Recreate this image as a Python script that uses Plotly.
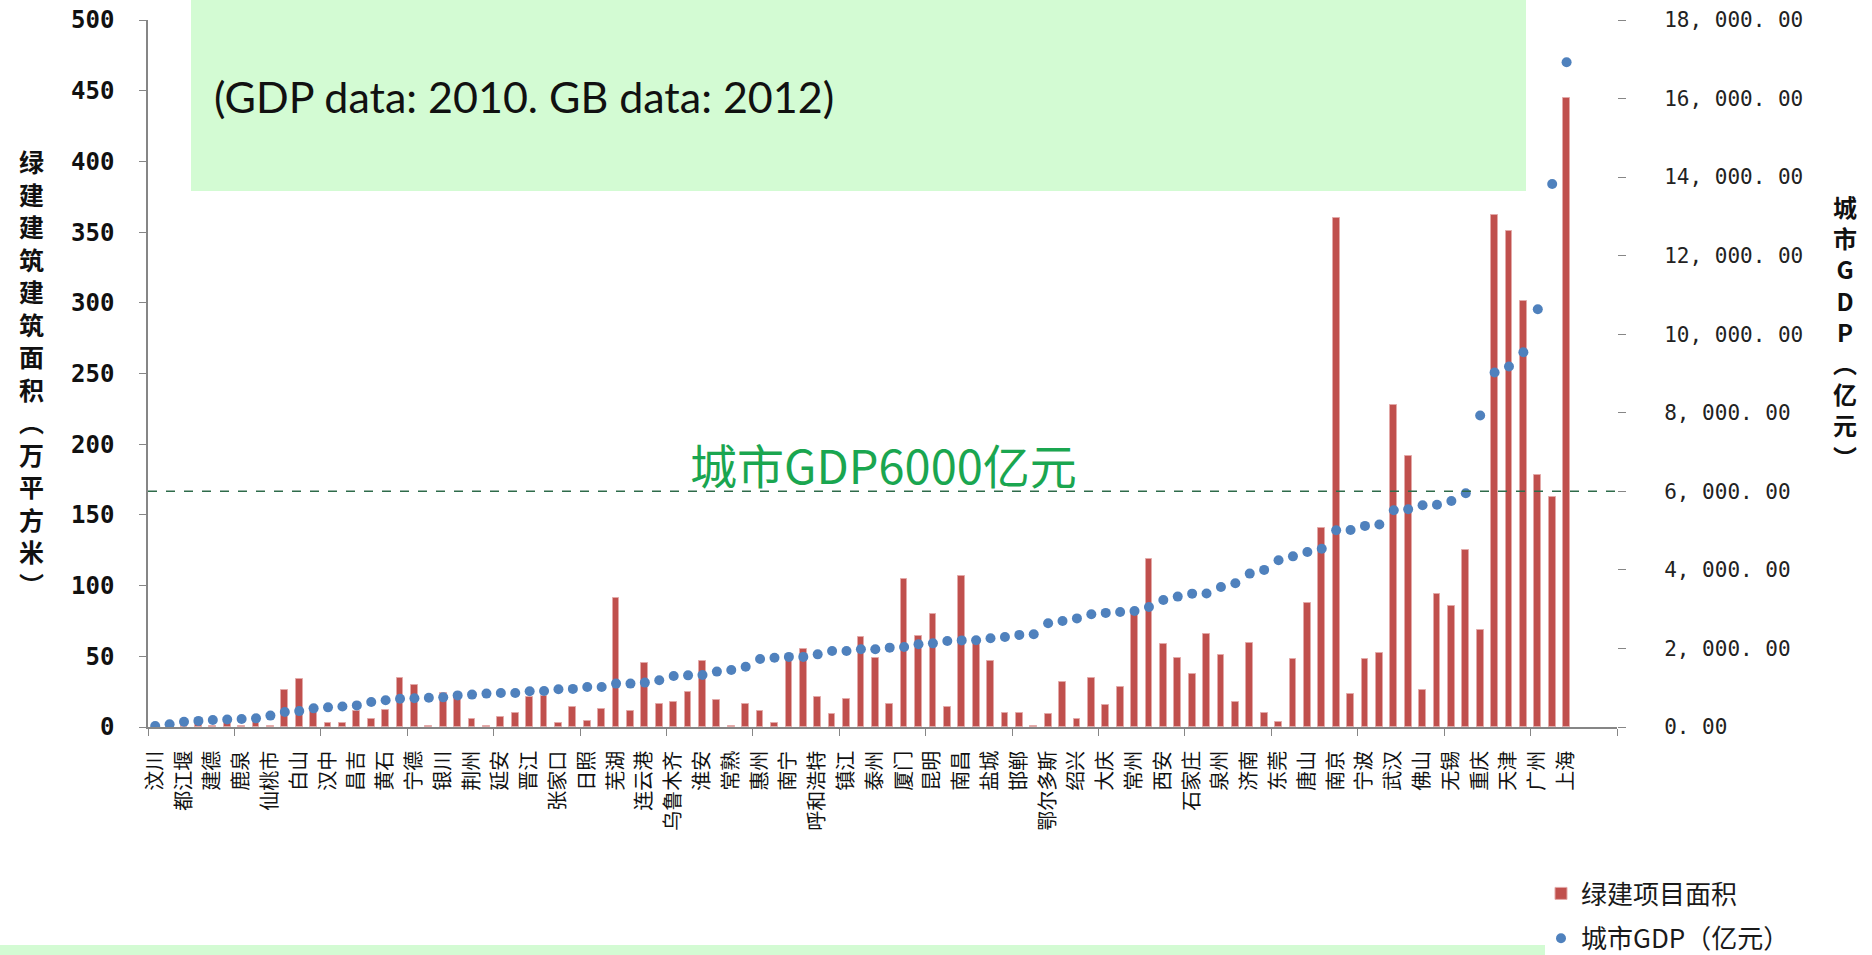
import plotly.graph_objects as go

# green building floor area (10k m2), one value per city slot, sorted by GDP
green_area = [0.5, 1, 2, 3, 1, 3, 1, 5, 1, 26, 34, 11, 2.5, 3, 11, 5.5, 12,
              35, 30, 0.5, 24, 21, 6, 1, 7, 10, 21, 22, 3, 14, 4, 13, 91.5, 11,
              45.5, 16.5, 18, 25, 46.5, 19, 1, 16.5, 11, 2.5, 49, 55, 21, 9.5, 20, 64, 48.5,
              16.5, 104.5, 64.5, 80, 14.5, 106.5, 61, 47, 10, 10, 0.5, 9.5, 31.5, 6, 35, 15.5, 28.5,
              80, 119, 59, 48.5, 37.5, 65.5, 51, 18, 59.5, 10, 3.5, 48, 88, 141, 360, 23, 48,
              52, 228, 192, 26, 94, 85.5, 125, 68.5, 362, 351, 301, 178, 163, 445]

# city GDP (100m yuan)
city_gdp = [25, 70, 135, 155, 180, 190, 205, 220, 290, 380, 405, 475, 500, 520, 550, 635, 680,
            720, 730, 745, 755, 805, 825, 850, 865, 865, 910, 915, 960, 970, 1020, 1020, 1105, 1105,
            1130, 1190, 1300, 1315, 1325, 1410, 1450, 1535, 1730, 1765, 1785, 1785, 1850, 1935, 1935, 1980, 1980,
            2020, 2035, 2105, 2130, 2190, 2205, 2210, 2260, 2290, 2345, 2360, 2640, 2700, 2765, 2870, 2905, 2930,
            2955, 3055, 3235, 3320, 3395, 3400, 3565, 3660, 3905, 4000, 4245, 4345, 4455, 4540, 5010, 5015, 5120,
            5155, 5520, 5545, 5645, 5660, 5755, 5950, 7930, 9025, 9180, 9540, 10635, 13825, 16925]

# only every other city is labelled on the axis
city_labels = ["汶川", "都江堰", "建德", "鹿泉", "仙桃市", "白山", "汉中", "昌吉", "黄石", "宁德",
               "银川", "荆州", "延安", "晋江", "张家口", "日照", "芜湖", "连云港", "乌鲁木齐", "淮安",
               "常熟", "惠州", "南宁", "呼和浩特", "镇江", "泰州", "厦门", "昆明", "南昌", "盐城",
               "邯郸", "鄂尔多斯", "绍兴", "大庆", "常州", "西安", "石家庄", "泉州", "济南", "东莞",
               "唐山", "南京", "宁波", "武汉", "佛山", "无锡", "重庆", "天津", "广州", "上海"]

gdp_ticks = [0, 2000, 4000, 6000, 8000, 10000, 12000, 14000, 16000, 18000]
gdp_tick_text = ["0. 00", "2, 000. 00", "4, 000. 00", "6, 000. 00", "8, 000. 00",
                 "10, 000. 00", "12, 000. 00", "14, 000. 00", "16, 000. 00", "18, 000. 00"]

slots = list(range(len(green_area)))
label_slots = slots[::2]

W, H = 1872, 955
L, R, T, B = 148, 1617, 20, 727   # plot area in pixels


def px(x):
    return (x - L) / (R - L)


def py(y):
    return (B - y) / (B - T)


cjk = "Noto Sans CJK SC"
mint = "#d3fbd3"
axis_grey = "#868686"

fig = go.Figure()
fig.add_trace(go.Bar(
    x=slots, y=green_area, name="绿建项目面积", width=0.47,
    marker=dict(color="#c0504d", line=dict(color="#e3a9a8", width=1)),
    legendgroup="a",
))
fig.add_trace(go.Scatter(
    x=slots, y=city_gdp, yaxis="y2", mode="markers", name="城市GDP（亿元）",
    marker=dict(color="#4f81bd", size=10),
    legendgroup="b",
))

fig.update_layout(
    width=W, height=H,
    margin=dict(l=L, r=W - R, t=T, b=H - B, autoexpand=False),
    paper_bgcolor="white", plot_bgcolor="white",
    bargap=0,
    xaxis=dict(
        range=[-0.5, 101.5], tickmode="array", tickvals=label_slots, ticktext=city_labels,
        tickangle=-90, ticks="", showline=True, linecolor=axis_grey, linewidth=1.5,
        showgrid=False, zeroline=False, ticklabelstandoff=14,
        tickfont=dict(family=cjk, size=20, color="#111111"),
        minor=dict(tickmode="array", tickvals=[-0.5 + 6 * k for k in range(18)],
                   ticks="outside", ticklen=7, tickcolor=axis_grey, showgrid=False),
    ),
    yaxis=dict(
        range=[0, 500], dtick=50, ticks="outside", ticklen=7, tickcolor=axis_grey,
        showline=True, linecolor=axis_grey, linewidth=1.5, showgrid=False, zeroline=False,
        ticklabelstandoff=20,
        tickfont=dict(family="DejaVu Sans Mono", size=24, color="#111111", weight="bold"),
    ),
    yaxis2=dict(
        range=[0, 18000], overlaying="y", side="right", tickmode="array",
        tickvals=gdp_ticks, ticktext=gdp_tick_text, ticks="outside", ticklen=8,
        tickcolor=axis_grey, showline=False, showgrid=False, zeroline=False,
        ticklabelstandoff=34,
        tickfont=dict(family="DejaVu Sans Mono", size=21, color="#222222"),
    ),
    legend=dict(
        x=px(1541), y=py(870), xanchor="left", yanchor="top",
        font=dict(family=cjk, size=26, color="#1a1a1a"),
        tracegroupgap=8, bgcolor="rgba(0,0,0,0)", traceorder="grouped",
    ),
    showlegend=True,
)

# green boxes from the slide
fig.add_shape(type="rect", xref="paper", yref="paper",
              x0=px(191), x1=px(1526), y0=py(191), y1=py(0),
              fillcolor=mint, line_width=0, layer="below")
fig.add_shape(type="rect", xref="paper", yref="paper",
              x0=px(0), x1=px(1545), y0=py(955), y1=py(945),
              fillcolor=mint, line_width=0, layer="below")

# GDP 6000 reference line
fig.add_shape(type="line", xref="paper", yref="y2", x0=0, x1=1, y0=6000, y1=6000,
              line=dict(color="#2e6b4a", width=1.5, dash="dash"))

fig.add_annotation(x=px(212), y=py(96), xref="paper", yref="paper", xanchor="left",
                   yanchor="middle", showarrow=False, text="(GDP data: 2010. GB data: 2012)",
                   font=dict(family="Lato", size=43, color="#111111"))
fig.add_annotation(x=px(883), y=py(463), xref="paper", yref="paper", showarrow=False,
                   text="城市GDP6000亿元", font=dict(family=cjk, size=47, color="#1aa650"))

left_title = "绿建建筑建筑面积︵万平方米︶"
right_title = "城市GDP︵亿元︶"
fig.add_annotation(x=px(31), y=py(372), xref="paper", yref="paper", showarrow=False,
                   xanchor="center", yanchor="middle",
                   text="<b>" + "<br>".join(left_title) + "</b>",
                   font=dict(family=cjk, size=25, color="#111111"))
fig.add_annotation(x=px(1845), y=py(331), xref="paper", yref="paper", showarrow=False,
                   xanchor="center", yanchor="middle",
                   text="<b>" + "<br>".join(right_title) + "</b>",
                   font=dict(family=cjk, size=24, color="#111111"))

fig.write_html("out.html", config={"displayModeBar": False},
               post_script="document.body.style.margin = '0';")
